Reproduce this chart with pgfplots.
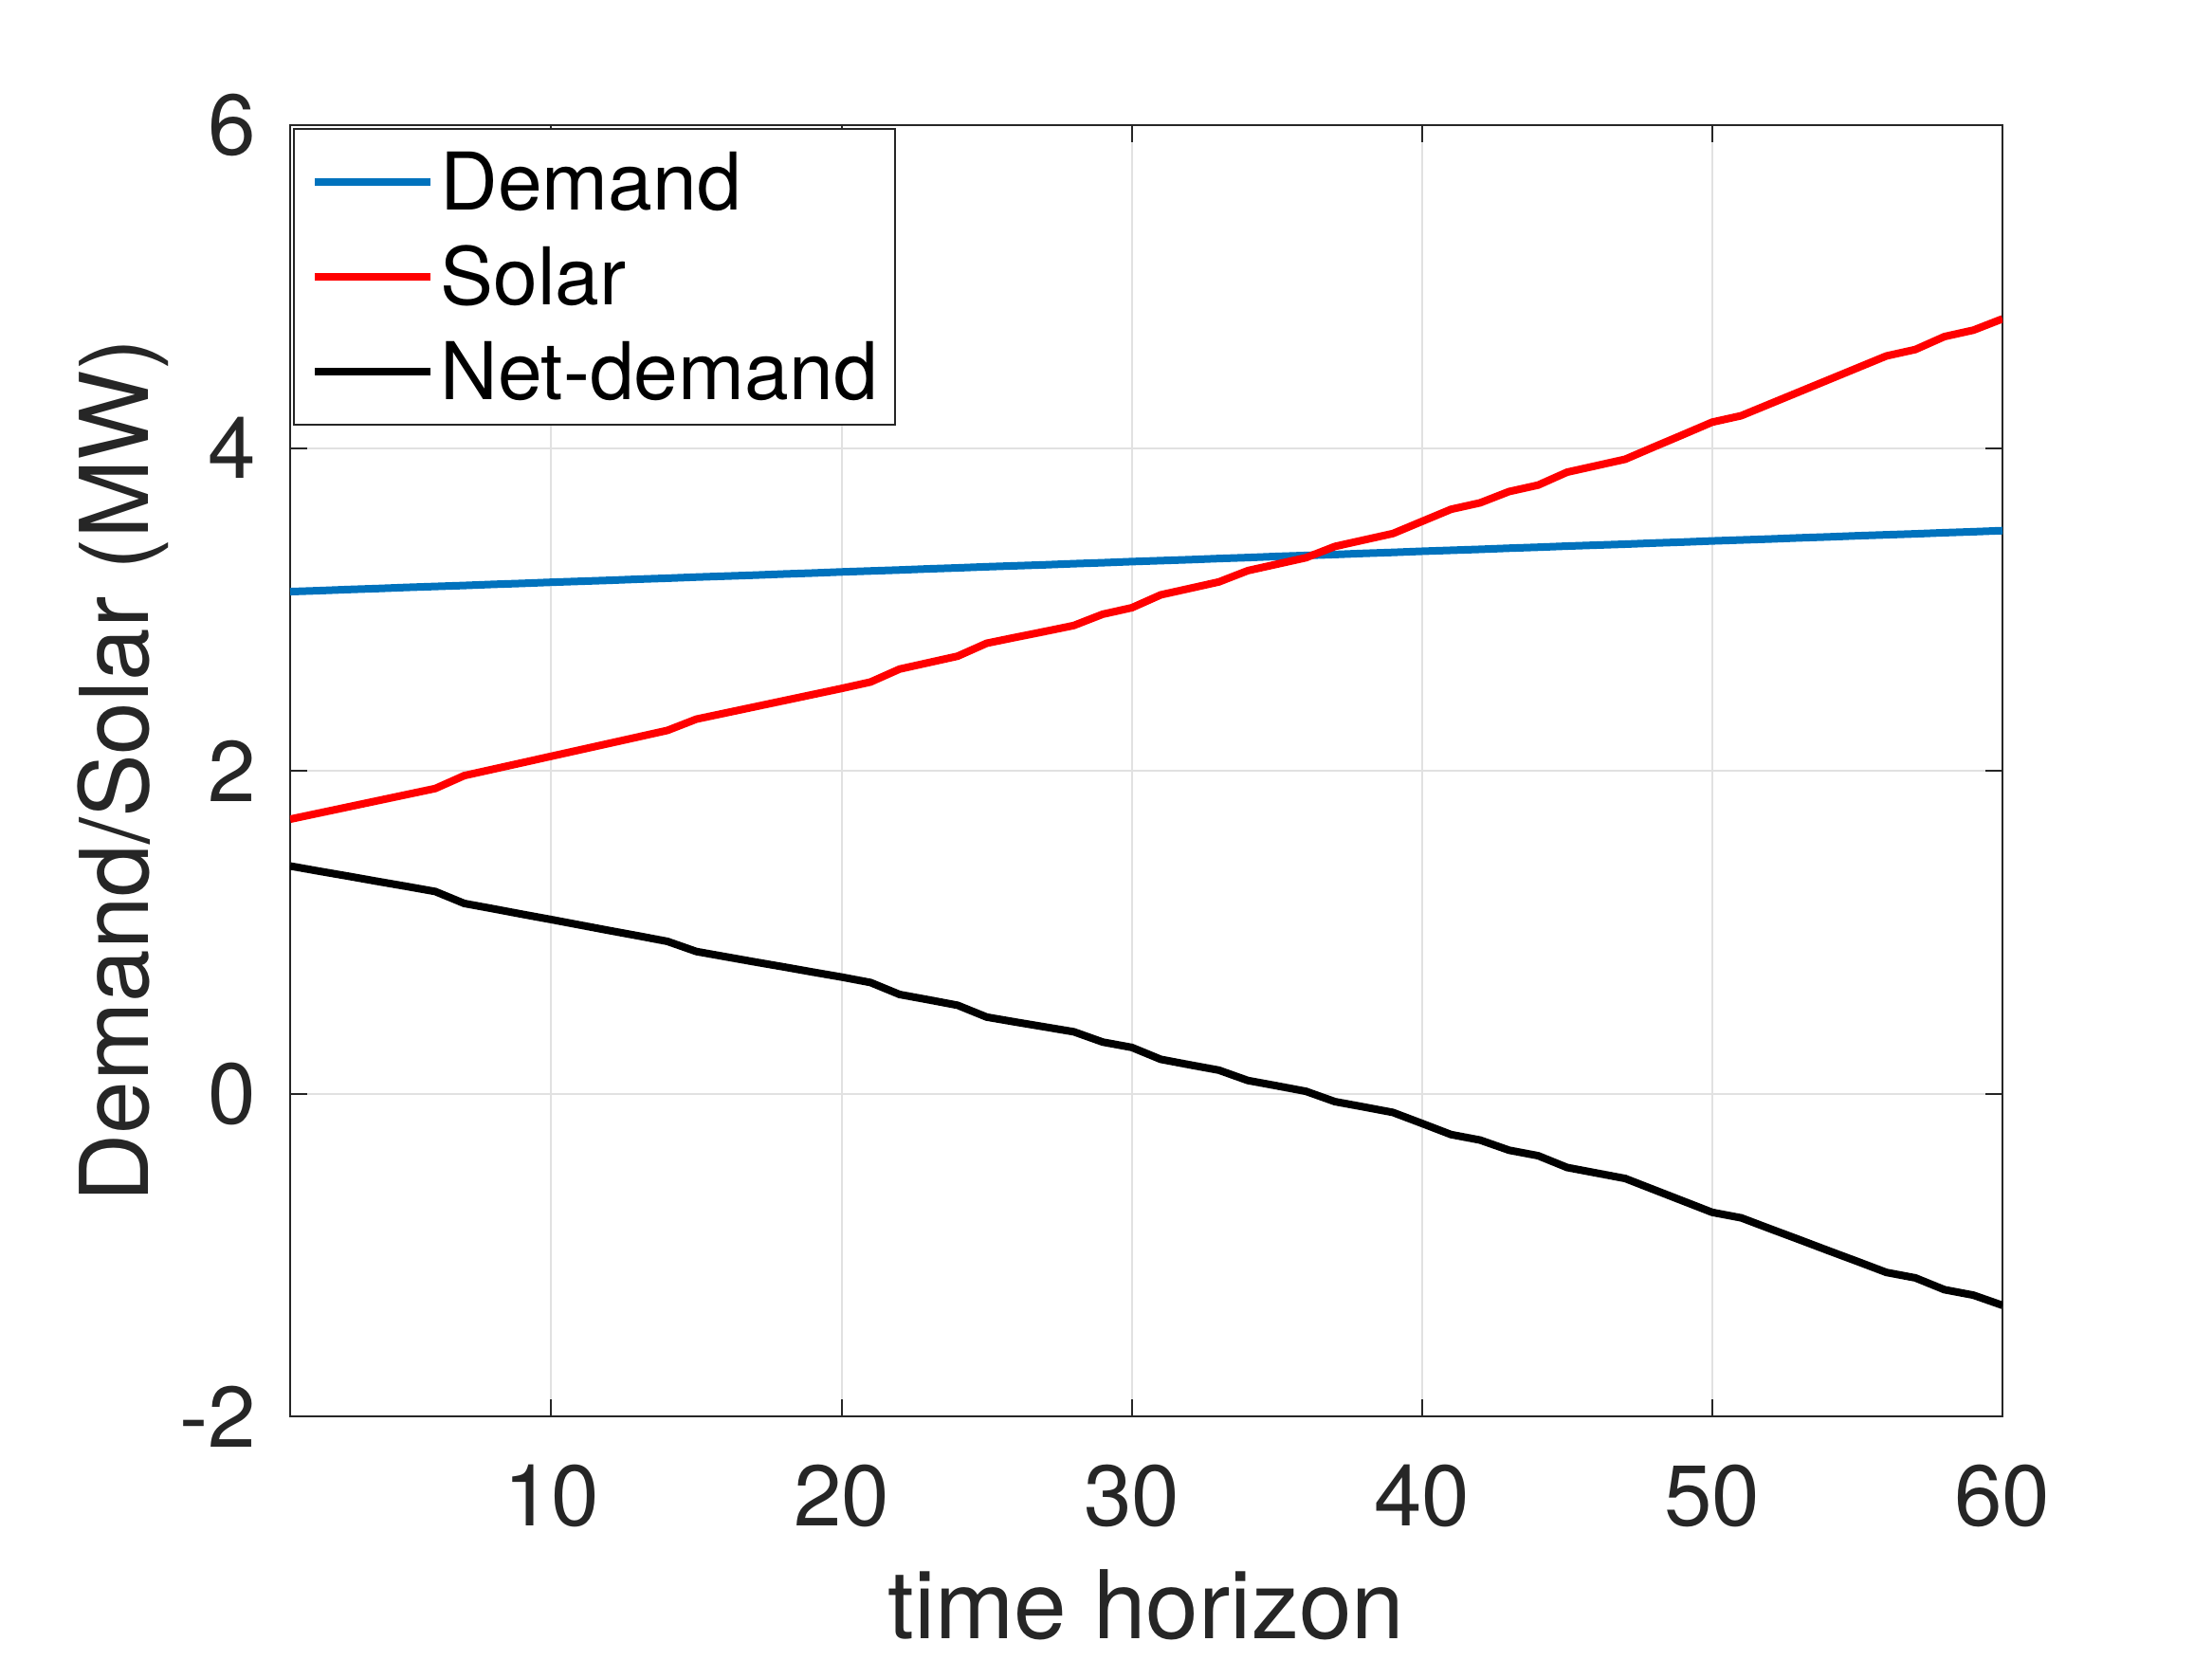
\documentclass[border=0pt]{standalone}
\usepackage{fontspec}
\setmainfont{TeX Gyre Heros}
\usepackage{pgfplots}
\usepackage{pgfplotstable}
\pgfplotsset{compat=1.18}
\definecolor{mblue}{rgb}{0,0.447,0.741}
\definecolor{axgray}{rgb}{0.15,0.15,0.15}
\definecolor{gridgray}{RGB}{225,225,225}

\pgfplotstableread{
x demand solar net
1 3.110 1.700 1.410
2 3.116 1.738 1.378
3 3.123 1.776 1.347
4 3.129 1.814 1.315
5 3.136 1.852 1.284
6 3.142 1.890 1.252
7 3.148 1.970 1.178
8 3.155 2.010 1.145
9 3.161 2.050 1.111
10 3.168 2.090 1.078
11 3.174 2.130 1.044
12 3.180 2.170 1.010
13 3.187 2.210 0.977
14 3.193 2.250 0.943
15 3.200 2.320 0.880
16 3.206 2.358 0.848
17 3.212 2.396 0.816
18 3.219 2.434 0.785
19 3.225 2.472 0.753
20 3.232 2.510 0.722
21 3.238 2.550 0.688
22 3.244 2.630 0.614
23 3.251 2.670 0.581
24 3.257 2.710 0.547
25 3.264 2.790 0.474
26 3.270 2.827 0.443
27 3.276 2.863 0.413
28 3.283 2.900 0.383
29 3.289 2.970 0.319
30 3.296 3.010 0.286
31 3.302 3.090 0.212
32 3.308 3.130 0.178
33 3.315 3.170 0.145
34 3.321 3.240 0.081
35 3.328 3.280 0.048
36 3.334 3.320 0.014
37 3.340 3.390 -0.050
38 3.347 3.430 -0.083
39 3.353 3.470 -0.117
40 3.360 3.545 -0.185
41 3.366 3.620 -0.254
42 3.372 3.660 -0.288
43 3.379 3.730 -0.351
44 3.385 3.770 -0.385
45 3.392 3.850 -0.458
46 3.398 3.890 -0.492
47 3.404 3.930 -0.526
48 3.411 4.007 -0.596
49 3.417 4.083 -0.666
50 3.424 4.160 -0.736
51 3.430 4.200 -0.770
52 3.436 4.274 -0.838
53 3.443 4.348 -0.905
54 3.449 4.422 -0.973
55 3.456 4.496 -1.040
56 3.462 4.570 -1.108
57 3.468 4.610 -1.142
58 3.475 4.690 -1.215
59 3.481 4.730 -1.249
60 3.488 4.800 -1.312
}\datatable

\begin{document}
\begin{tikzpicture}
\path[use as bounding box] (0,0) rectangle (583.25pt,437.5pt);
\begin{axis}[
  at={(76.5pt,64pt)}, anchor=south west,
  scale only axis, width=451.5pt, height=340.5pt,
  xmin=1, xmax=60, ymin=-2, ymax=6,
  xtick={10,20,30,40,50,60}, ytick={-2,0,2,4,6},
  xticklabels={10,20,30,40,50,60}, yticklabels={-2,0,2,4,6},
  tick align=inside, major tick length=4.4pt,
  xtick pos=both, ytick pos=both,
  grid=major, major grid style={gridgray, line width=0.5pt},
  axis line style={axgray, line width=0.5pt},
  tick style={axgray, line width=0.5pt},
  ticklabel style={font=\fontsize{22.7}{27}\selectfont, text=axgray},
  xticklabel style={anchor=north, inner sep=0pt, yshift=-12.5pt},
  yticklabel style={anchor=east, inner sep=0pt, xshift=-8.75pt},
  xlabel={time horizon}, ylabel={Demand/Solar (MW)},
  label style={font=\fontsize{25}{30}\selectfont, text=axgray},
  xlabel style={at={(axis description cs:0.5,-0.1718)}, anchor=base, inner sep=0pt},
  ylabel style={at={(axis description cs:-0.08306,0.5)}, anchor=base, inner sep=0pt},
  legend style={at={(0,1)}, anchor=north west, xshift=0.75pt, yshift=-0.75pt,
    draw=axgray, line width=0.5pt, inner xsep=4.5pt, inner ysep=1.5pt,
    font=\fontsize{21}{24}\selectfont, text=black, column sep=1.5pt,
    cells={anchor=west}, nodes={inner sep=0pt, text height=19.9pt, text depth=5.1pt}},
  legend image code/.code={\draw[#1, line width=2.1pt] (0pt,0pt) -- (30.5pt,0pt);},
]
\addplot[mblue, line width=2pt] table[x=x, y=demand] {\datatable};
\addlegendentry{Demand}
\addplot[red, line width=2pt] table[x=x, y=solar] {\datatable};
\addlegendentry{Solar}
\addplot[black, line width=2pt] table[x=x, y=net] {\datatable};
\addlegendentry{Net-demand}
\end{axis}
\end{tikzpicture}
\end{document}
